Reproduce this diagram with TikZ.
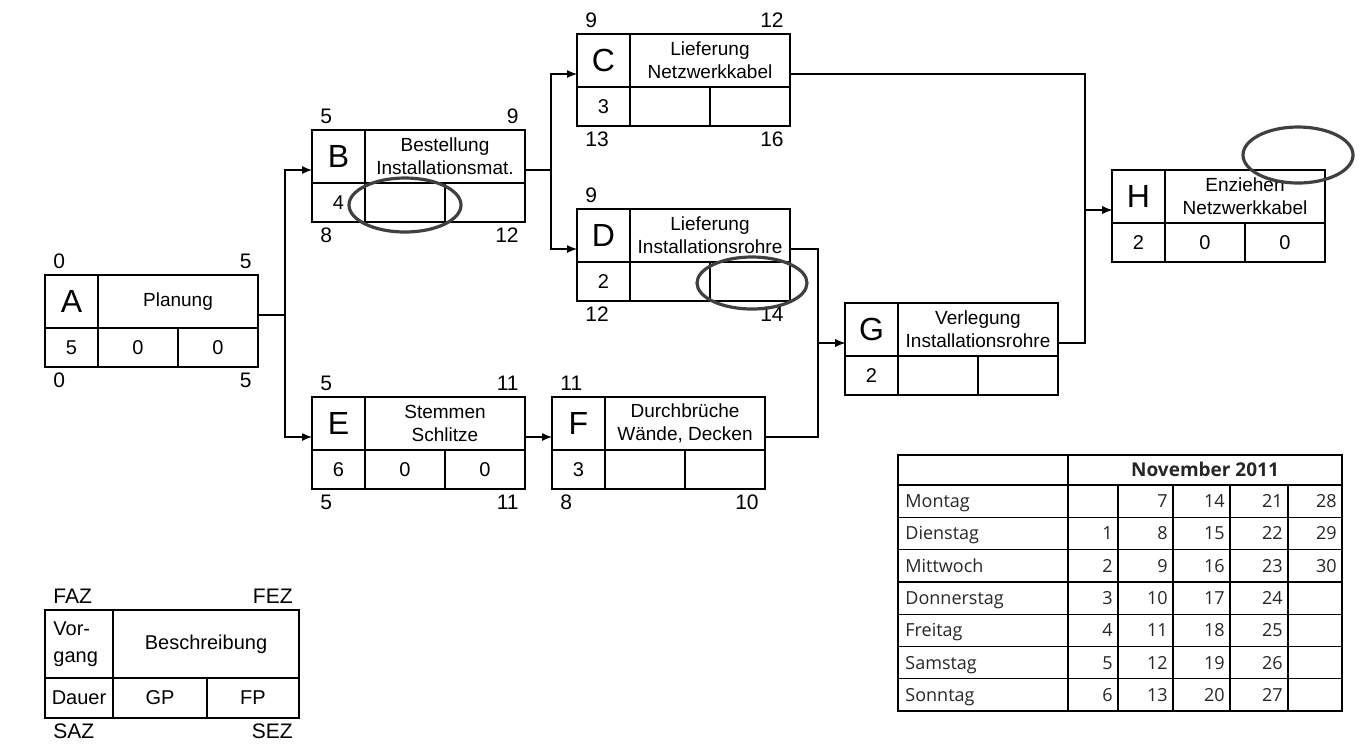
\documentclass[tikz,border=0pt]{standalone}
\usepackage{fontspec}
\setmainfont{Liberation Sans}
\newfontfamily\kalfont{Open Sans}
\usetikzlibrary{arrows.meta}

% Vorgangsknoten: Name, Ecke oben links, Buchstabe, Beschreibung
\newcommand\vorgang[4]{%
  \node[box] (#1) at (#2) {};
  \draw[gitter] (#1.north west) ++(0,53) -- ++(213,0);
  \draw[gitter] (#1.north west) ++(53,0) -- ++(0,92);
  \draw[gitter] (#1.south west) ++(133,0) -- ++(0,-39);
  \path (#1.north west) ++(26.5,26.5) node[buchst] (#1-v) {#3};
  \path (#1.north west) ++(133,26.5) node[beschr] (#1-t) {#4};
}
\newcommand\dauer[2]{%
  \path (#1.south west) ++(26.5,-19.5) node[wert] (#1-d) {#2};
}
\newcommand\puffer[3]{%
  \path (#1.south west) ++(93,-19.5) node[wert] (#1-gp) {#2};
  \path (#1.south west) ++(173,-19.5) node[wert] (#1-fp) {#3};
}
\newcommand\zeiten[5]{%
  \ifx&#2&\else\path (#1.north west) ++(8,-7) node[zeit,anchor=base west] (#1-faz) {#2};\fi
  \ifx&#3&\else\path (#1.north east) ++(-6,-7) node[zeit,anchor=base east] (#1-fez) {#3};\fi
  \ifx&#4&\else\path (#1.south west) ++(8,20) node[zeit,anchor=base west] (#1-saz) {#4};\fi
  \ifx&#5&\else\path (#1.south east) ++(-6,20) node[zeit,anchor=base east] (#1-sez) {#5};\fi
}

\begin{document}
\begin{tikzpicture}[x=0.5pt, y=-0.5pt,
                    >={Latex[length=5pt,width=4pt]},
                    box/.style={draw, anchor=north west, minimum width=106.5pt,
                                minimum height=46pt, inner sep=0pt, outer sep=0pt,
                                line width=0.6pt},
                    gitter/.style={line width=0.6pt},
                    buchst/.style={font=\fontsize{16}{18}\selectfont},
                    beschr/.style={align=center, font=\fontsize{9.5}{11.5}\selectfont},
                    wert/.style={font=\fontsize{10}{12}\selectfont},
                    zeit/.style={font=\fontsize{10.5}{12}\selectfont, inner sep=0pt},
                    legtext/.style={font=\fontsize{10}{13.5}\selectfont},
                    pfeil/.style={->, line width=0.6pt},
                    kreis/.style={line width=1.6pt, draw=black!75},
                    kal/.style={font=\kalfont\fontsize{9}{11}\selectfont,
                                text=black!85, inner sep=0pt}]

  \useasboundingbox (0,0) rectangle (1368,746);

  \vorgang{A}{45,275}{A}{Planung}
  \dauer{A}{5} \puffer{A}{0}{0} \zeiten{A}{0}{5}{0}{5}
  \vorgang{B}{312,130}{B}{Bestellung\\Installationsmat.}
  \dauer{B}{4} \zeiten{B}{5}{9}{8}{12}
  \vorgang{C}{577,34}{C}{Lieferung\\Netzwerkkabel}
  \dauer{C}{3} \zeiten{C}{9}{12}{13}{16}
  \vorgang{D}{577,209}{D}{Lieferung\\Installationsrohre}
  \dauer{D}{2} \zeiten{D}{9}{}{12}{14}
  \vorgang{E}{312,397}{E}{Stemmen\\Schlitze}
  \dauer{E}{6} \puffer{E}{0}{0} \zeiten{E}{5}{11}{5}{11}
  \vorgang{F}{552,397}{F}{Durchbrüche\\Wände, Decken}
  \dauer{F}{3} \zeiten{F}{11}{}{8}{10}
  \vorgang{G}{845,303}{G}{Verlegung\\Installationsrohre}
  \dauer{G}{2}
  \vorgang{H}{1112,170}{H}{Enziehen\\Netzwerkkabel}
  \dauer{H}{2} \puffer{H}{0}{0}

  % Pfeile
  \draw[pfeil] ([yshift=3pt]A.east) -- ++(27,0) |- ([yshift=3pt]B.west);
  \draw[pfeil] ([yshift=3pt]A.east) -- ++(27,0) |- ([yshift=3pt]E.west);
  \draw[pfeil] ([yshift=3pt]B.east) -- ++(26,0) |- ([yshift=3pt]C.west);
  \draw[pfeil] ([yshift=3pt]B.east) -- ++(26,0) |- ([yshift=3pt]D.west);
  \draw[pfeil] ([yshift=3pt]E.east) -- ([yshift=3pt]F.west);
  \draw[pfeil] ([yshift=3pt]D.east) -| ([xshift=-13.5pt,yshift=3pt]G.west) -- ([yshift=3pt]G.west);
  \draw[pfeil] ([yshift=3pt]F.east) -| ([xshift=-13.5pt,yshift=3pt]G.west) -- ([yshift=3pt]G.west);
  \draw[pfeil] ([yshift=3pt]C.east) -| ([xshift=-13.5pt,yshift=3pt]H.west) -- ([yshift=3pt]H.west);
  \draw[pfeil] ([yshift=3pt]G.east) -| ([xshift=-13.5pt,yshift=3pt]H.west) -- ([yshift=3pt]H.west);

  % Markierungen
  \draw[kreis] (405,205) ellipse [x radius=28pt, y radius=13.5pt];
  \draw[kreis] (752,283) ellipse [x radius=27.5pt, y radius=13pt];
  \draw[kreis] (1298,155) ellipse [x radius=27.5pt, y radius=14pt];

  % Legende
  \node[box, minimum width=127pt, minimum height=54pt] (L) at (45,610) {};
  \draw[gitter] (L.north west) ++(0,68) -- ++(254,0);
  \draw[gitter] (L.north west) ++(68,0) -- ++(0,108);
  \draw[gitter] (L.south west) ++(162,0) -- ++(0,-40);
  \path (L.north west) ++(8,34) node[legtext, anchor=west, align=left, inner sep=0pt] (L-v) {Vor-\\gang};
  \path (L.north west) ++(161,34) node[legtext] (L-t) {Beschreibung};
  \path (L.north west) ++(34,88) node[legtext] (L-d) {Dauer};
  \path (L.north west) ++(115,88) node[legtext] (L-gp) {GP};
  \path (L.north west) ++(208,88) node[legtext] (L-fp) {FP};
  \zeiten{L}{FAZ}{FEZ}{SAZ}{SEZ}

  % Kalender
  \node[box, minimum width=222pt, minimum height=128pt] (kal) at (898,455) {};
  \draw[gitter] (kal.north west) ++(170,0) -- ++(0,256);
  \foreach \y in {30,62.3,94.6,126.9,159.1,191.4,223.7}
    \draw[gitter] (kal.north west) ++(0,\y) -- ++(444,0);
  \foreach \x in {220,275,332,390}
    \draw[gitter] (kal.north west) ++(\x,30) -- ++(0,226);
  \path (kal.north west) ++(307,21.5) node[kal, anchor=base, font=\kalfont\bfseries\fontsize{9.5}{11}\selectfont] (kal-m) {November 2011};
  \foreach \tag/\a/\b/\c/\d/\e [count=\i] in {Montag//7/14/21/28, Dienstag/1/8/15/22/29,
      Mittwoch/2/9/16/23/30, Donnerstag/3/10/17/24/, Freitag/4/11/18/25/,
      Samstag/5/12/19/26/, Sonntag/6/13/20/27/}
  {
    \path (kal.north west) ++(7,20.3+32.29*\i) node[kal, anchor=base west] (tag\i) {\tag};
    \path (kal.north west) ++(215,20.3+32.29*\i) node[kal, anchor=base east] (k\i-a) {\a};
    \path (kal.north west) ++(270,20.3+32.29*\i) node[kal, anchor=base east] (k\i-b) {\b};
    \path (kal.north west) ++(327,20.3+32.29*\i) node[kal, anchor=base east] (k\i-c) {\c};
    \path (kal.north west) ++(385,20.3+32.29*\i) node[kal, anchor=base east] (k\i-d) {\d};
    \path (kal.north west) ++(439,20.3+32.29*\i) node[kal, anchor=base east] (k\i-e) {\e};
  }
\end{tikzpicture}
\end{document}
